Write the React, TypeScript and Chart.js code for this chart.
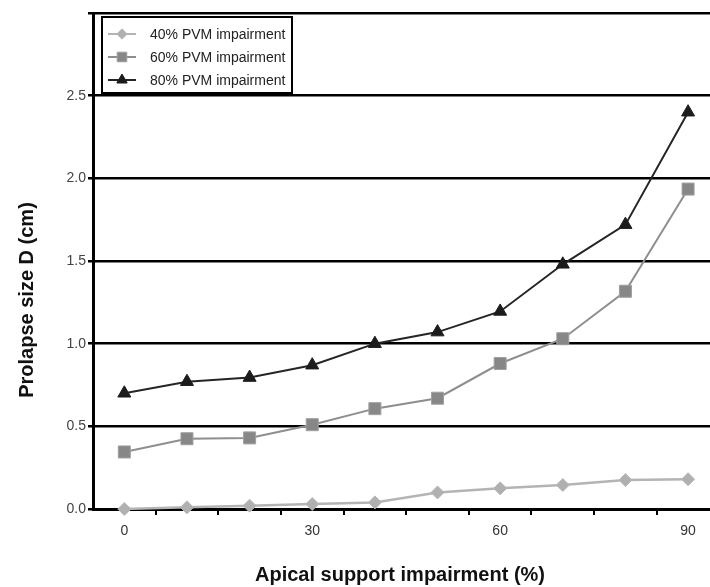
import React, { useEffect, useRef } from 'react';
import { Chart, registerables } from 'chart.js';

Chart.register(...registerables);

const xValues = [0, 10, 20, 30, 40, 50, 60, 70, 80, 90];
const pvm40 = [0, 0.01, 0.02, 0.03, 0.04, 0.1, 0.125, 0.145, 0.175, 0.18];
const pvm60 = [0.345, 0.425, 0.43, 0.51, 0.607, 0.67, 0.88, 1.03, 1.317, 1.935];
const pvm80 = [0.7, 0.77, 0.795, 0.87, 1.0, 1.07, 1.195, 1.48, 1.72, 2.4];
const seriesLabels = ['40% PVM impairment', '60% PVM impairment', '80% PVM impairment'];
const yTicks = [0, 0.5, 1.0, 1.5, 2.0, 2.5, 3.0];
const xLabelTicks = [0, 30, 60, 90];
const xMarkTicks = [5, 15, 25, 35, 45, 55, 65, 75, 85];
const xTitle = 'Apical support impairment (%)';
const yTitle = 'Prolapse size D (cm)';

const FONT = '"Liberation Sans", Arial, sans-serif';

function drawMarker(ctx: CanvasRenderingContext2D, style: string, x: number, y: number, r: number) {
  ctx.beginPath();
  if (style === 'rect') {
    const s = r * Math.SQRT1_2;
    ctx.rect(x - s, y - s, 2 * s, 2 * s);
  } else if (style === 'rectRot') {
    ctx.moveTo(x, y - r);
    ctx.lineTo(x + r, y);
    ctx.lineTo(x, y + r);
    ctx.lineTo(x - r, y);
    ctx.closePath();
  } else {
    ctx.moveTo(x, y - r);
    ctx.lineTo(x + r * Math.sin(Math.PI / 3), y + r / 2);
    ctx.lineTo(x - r * Math.sin(Math.PI / 3), y + r / 2);
    ctx.closePath();
  }
  ctx.fill();
  ctx.lineWidth = 1;
  ctx.stroke();
}

const legendAndTitles = {
  id: 'legendAndTitles',
  afterDraw(chart: any) {
    const ctx = chart.ctx;
    ctx.save();
    ctx.fillStyle = '#111';
    ctx.font = `bold 20px ${FONT}`;
    ctx.textAlign = 'center';
    ctx.textBaseline = 'middle';
    ctx.fillText(xTitle, 400, 575);
    ctx.save();
    ctx.translate(27, 300);
    ctx.rotate(-Math.PI / 2);
    ctx.fillText(yTitle, 0, 0);
    ctx.restore();

    const bx = 102, by = 17, bw = 190, bh = 76;
    ctx.fillStyle = '#fff';
    ctx.fillRect(bx, by, bw, bh);
    ctx.lineWidth = 2;
    ctx.strokeStyle = '#000';
    ctx.strokeRect(bx, by, bw, bh);
    chart.data.datasets.forEach((ds: any, i: number) => {
      const cy = 34 + i * 23;
      ctx.strokeStyle = ds.borderColor;
      ctx.lineWidth = 2;
      ctx.beginPath();
      ctx.moveTo(108, cy);
      ctx.lineTo(136, cy);
      ctx.stroke();
      ctx.fillStyle = ds.pointBackgroundColor;
      ctx.strokeStyle = ds.pointBorderColor;
      drawMarker(ctx, ds.pointStyle, 122, cy, ds.pointRadius * 0.8);
      ctx.fillStyle = '#222';
      ctx.font = `14px ${FONT}`;
      ctx.textAlign = 'left';
      ctx.textBaseline = 'middle';
      ctx.fillText(ds.label, 150, cy + 1);
    });
    ctx.restore();
  },
};

export default function App() {
  const ref = useRef<HTMLCanvasElement>(null);
  useEffect(() => {
    if (!ref.current) return;
    const mk = (vals: number[]) => vals.map((v, i) => ({ x: xValues[i], y: v }));
    const chart = new Chart(ref.current, {
      type: 'line',
      data: {
        datasets: [
          {
            label: seriesLabels[0],
            data: mk(pvm40),
            borderColor: '#b4b4b4',
            borderWidth: 2.5,
            pointStyle: 'rectRot',
            pointRadius: 6.5,
            pointBackgroundColor: '#b0b0b0',
            pointBorderColor: '#b8b8b8',
            pointBorderWidth: 1,
            clip: false,
          },
          {
            label: seriesLabels[1],
            data: mk(pvm60),
            borderColor: '#8e8e8e',
            borderWidth: 2,
            pointStyle: 'rect',
            pointRadius: 8.5,
            pointBackgroundColor: '#878787',
            pointBorderColor: '#a0a0a0',
            pointBorderWidth: 1,
            clip: false,
          },
          {
            label: seriesLabels[2],
            data: mk(pvm80),
            borderColor: '#252525',
            borderWidth: 2,
            pointStyle: 'triangle',
            pointRadius: 7.5,
            pointBackgroundColor: '#1c1c1c',
            pointBorderColor: '#1c1c1c',
            pointBorderWidth: 1,
            clip: false,
          },
        ] as any,
      },
      options: {
        animation: false,
        responsive: false,
        maintainAspectRatio: false,
        layout: { autoPadding: false, padding: { top: 13, left: 0, right: 0, bottom: 0 } },
        plugins: { legend: { display: false }, tooltip: { enabled: false } },
        scales: {
          x: {
            type: 'linear',
            min: -5,
            max: 93.5,
            afterBuildTicks: (s: any) => {
              s.ticks = [...xLabelTicks, ...xMarkTicks].sort((a, b) => a - b).map((v) => ({ value: v }));
            },
            afterFit: (s: any) => {
              s.height = 78;
              s.paddingLeft = 0;
              s.paddingRight = 0;
            },
            ticks: {
              autoSkip: false,
              maxRotation: 0,
              padding: 8,
              color: '#333',
              font: { family: FONT, size: 14 },
              callback: (v: any) => (xLabelTicks.includes(v) ? String(v) : ''),
            },
            grid: {
              drawOnChartArea: false,
              drawTicks: true,
              tickLength: 6,
              lineWidth: 2,
              tickColor: (c: any) => (c.tick && xMarkTicks.includes(c.tick.value) ? '#000' : 'rgba(0,0,0,0)'),
            },
            border: { display: true, color: '#000', width: 3 },
          },
          y: {
            type: 'linear',
            min: 0,
            max: 3.0,
            afterBuildTicks: (s: any) => {
              s.ticks = yTicks.map((v) => ({ value: v }));
            },
            afterFit: (s: any) => {
              s.width = 93;
              s.paddingTop = 0;
              s.paddingBottom = 0;
            },
            ticks: {
              padding: 2,
              color: '#444',
              font: { family: FONT, size: 14 },
              callback: (v: any) => (v >= 3 ? '' : Number(v).toFixed(1)),
            },
            grid: {
              color: '#000',
              lineWidth: 2.5,
              drawTicks: true,
              tickLength: 5,
              tickColor: '#000',
            },
            border: { display: true, color: '#000', width: 3 },
          },
        },
      },
      plugins: [legendAndTitles],
    });
    return () => chart.destroy();
  }, []);
  return (
    <div style={{ position: 'absolute', left: 0, top: 0, width: 710, height: 587, background: '#fff', overflow: 'hidden' }}>
      <canvas ref={ref} width={710} height={587} style={{ display: 'block', width: 710, height: 587 }} />
    </div>
  );
}
